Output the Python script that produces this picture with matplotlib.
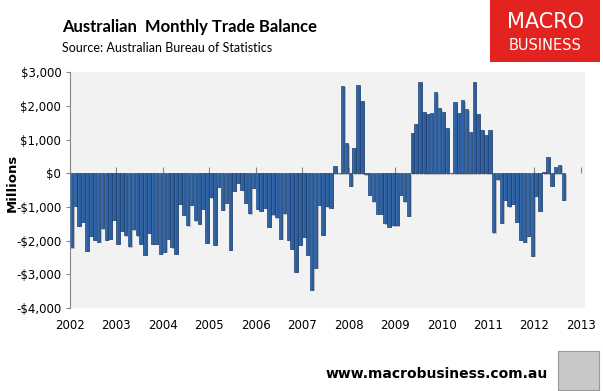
import numpy as np
import matplotlib
matplotlib.use("Agg")
import matplotlib.pyplot as plt
import matplotlib.patheffects as pe
from matplotlib.patches import Rectangle

# monthly trade balance, $ millions, Jan 2002 - Aug 2012
start_year = 2002
balance = [
    # 2002
    -2200, -960, -1550, -1430, -2300, -1855, -1975, -2025, -1630, -1975, -1945, -1380,
    # 2003
    -2090, -1710, -1845, -2170, -1660, -1845, -2090, -2420, -1770, -2100, -2090, -2390,
    # 2004
    -2330, -1950, -2200, -2390, -910, -1230, -1540, -930, -1390, -1490, -1050, -2060,
    # 2005
    -710, -2120, -390, -1080, -880, -2270, -510, -280, -480, -870, -1180, -430,
    # 2006
    -1060, -1110, -1030, -1590, -1210, -1310, -1940, -1180, -1970, -2240, -2920, -2120,
    # 2007
    -1890, -2420, -3460, -2800, -930, -1820, -980, -1030, 230, 20, 2600, 900,
    # 2008
    -360, 750, 2630, 2140, -30, -630, -830, -1200, -1200, -1480, -1580, -1540,
    # 2009
    -1540, -630, -830, -1260, 1200, 1470, 2710, 1830, 1770, 1800, 2410, 1940,
    # 2010
    1830, 1340, 20, 2110, 1800, 2170, 1910, 1230, 2710, 1770, 1300, 1130,
    # 2011
    1280, -1750, -180, -1470, -780, -980, -900, -1440, -1970, -2030, -1850, -2450,
    # 2012
    -660, -1110, 40, 480, -360, 190, 250, -780,
]
years = list(range(2002, 2014))
y_ticks = [3000, 2000, 1000, 0, -1000, -2000, -3000, -4000]
y_labels = ["$3,000", "$2,000", "$1,000", "$0", "-$1,000", "-$2,000", "-$3,000", "-$4,000"]

title = "Australian  Monthly Trade Balance"
source = "Source: Australian Bureau of Statistics"
site = "www.macrobusiness.com.au"

fig = plt.figure(figsize=(6.03, 3.91), dpi=100)
ax = fig.add_axes([0.1156, 0.2123, 0.854, 0.6023])
ax.set_facecolor("#f2f2f2")

x = start_year + np.arange(len(balance)) / 12.0
w = 1 / 12.0

# main bars with a soft drop shadow
bars = ax.bar(x, balance, width=w * 0.92, align="edge", color="#2c5d9c",
              edgecolor="#1d3f6c", linewidth=0.5, zorder=2)
for b in bars:
    b.set_path_effects([pe.SimplePatchShadow(offset=(1, -1), shadow_rgbFace="#888888", alpha=0.5),
                        pe.Normal()])
# subtle highlight on the left half of each bar
ax.bar(x + w * 0.15, balance, width=w * 0.35, align="edge", color="#3f74b8",
       linewidth=0, zorder=3, alpha=0.55)

ax.set_xlim(2002, 2013.08)
ax.set_ylim(-4000, 3000)
ax.set_xticks(years)
ax.set_xticklabels([str(y) for y in years])
ax.set_yticks(y_ticks)
ax.set_yticklabels(y_labels)
ax.tick_params(axis="x", length=0, pad=8, labelsize=8.5, colors="#000000")
ax.tick_params(axis="y", length=3, color="#868686", labelsize=8.5, pad=3)

for side in ["top", "right", "bottom"]:
    ax.spines[side].set_visible(False)
ax.spines["left"].set_color("#868686")

# zero line with year ticks
zero = ax.secondary_xaxis(4 / 7)
zero.set_xticks(years)
zero.xaxis.set_ticks_position("bottom")
zero.tick_params(direction="in", length=4, color="#868686", labelbottom=False, labeltop=False)
zero.spines["bottom"].set_color("#868686")
zero.spines["bottom"].set_linewidth(1.2)
for side in ["top", "left", "right"]:
    zero.spines[side].set_visible(False)

ax.set_ylabel("Millions", fontsize=9.5, fontweight="bold")
ax.yaxis.set_label_coords(-0.098, 0.53)

fig.text(0.103, 0.93, title, fontsize=12, fontweight="bold", family="Lato", va="center")
fig.text(0.103, 0.877, source, fontsize=9, family="Lato", va="center")

# logo box
logo = fig.add_axes([0.813, 0.842, 0.182, 0.158])
logo.set_xlim(0, 1)
logo.set_ylim(0, 1)
logo.axis("off")
logo.add_patch(Rectangle((0, 0), 1, 1, color="#e2231f"))
logo.text(0.5, 0.64, "MACRO", color="white", fontsize=15, ha="center", va="center",
          family="Liberation Sans Narrow")
logo.text(0.5, 0.27, "BUSINESS", color="white", fontsize=10.5, ha="center", va="center",
          family="Liberation Sans Narrow")

fig.text(0.908, 0.043, site, fontsize=10, fontweight="bold", ha="right", va="center",
         family="DejaVu Sans")
wolf = fig.add_axes([0.925, 0.003, 0.068, 0.1])
wolf.set_xticks([])
wolf.set_yticks([])
wolf.set_facecolor("#c8c8c8")
for s in wolf.spines.values():
    s.set_color("#999999")

fig.savefig("out.png", dpi=100)
